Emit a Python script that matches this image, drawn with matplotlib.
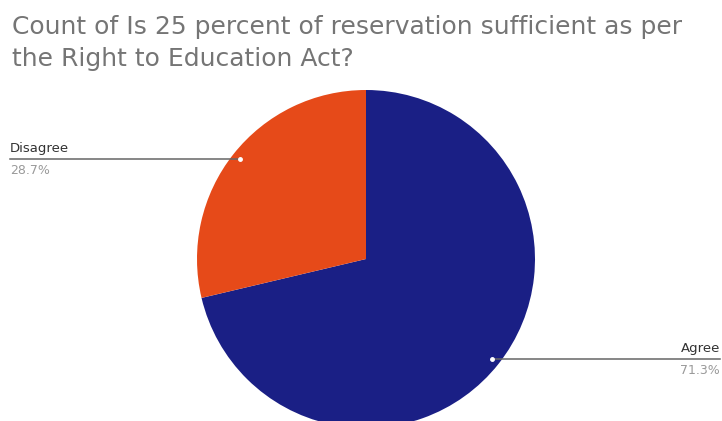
import numpy as np
import matplotlib
matplotlib.use("Agg")
import matplotlib.pyplot as plt

title = "Count of Is 25 percent of reservation sufficient as per\nthe Right to Education Act?"
categories = ["Agree", "Disagree"]
values = [71.3, 28.7]
colors = ["#1a1f85", "#e64a19"]

W, H = 722, 421
fig = plt.figure(figsize=(W / 100, H / 100), dpi=100)
ax = fig.add_axes([0, 0, 1, 1])

cx, cy, r = 366, H - 259, 169
wedges, _ = ax.pie(values, colors=colors, startangle=90, counterclock=False,
                   center=(cx, cy), radius=r, frame=True,
                   wedgeprops=dict(linewidth=0))
ax.set_xlim(0, W)
ax.set_ylim(0, H)
ax.set_aspect("auto")
ax.axis("off")

for w, cat, v in zip(wedges, categories, values):
    mid = np.deg2rad((w.theta1 + w.theta2) / 2)
    dx, dy = np.cos(mid), np.sin(mid)
    px, py = cx + 0.95 * r * dx, cy + 0.95 * r * dy
    ax.plot([px], [py], marker="o", ms=2.5, color="white", zorder=5)
    if dx < 0:
        x_end, ha = 10, "left"
    else:
        x_end, ha = 720, "right"
    ax.plot([px, x_end], [py, py], color="#666666", lw=1.1, zorder=4)
    ax.text(x_end, py + 4, cat, ha=ha, va="bottom", fontsize=9.5, color="#333333",
            family="DejaVu Sans")
    ax.text(x_end, py - 5, f"{v:.1f}%", ha=ha, va="top", fontsize=9, color="#9a9a9a",
            family="DejaVu Sans")

fig.text(12 / W, 1 - 15 / H, title, ha="left", va="top", fontsize=18,
         color="#757575", family="DejaVu Sans", linespacing=1.4)

fig.savefig("out.png", dpi=100, facecolor="white")
